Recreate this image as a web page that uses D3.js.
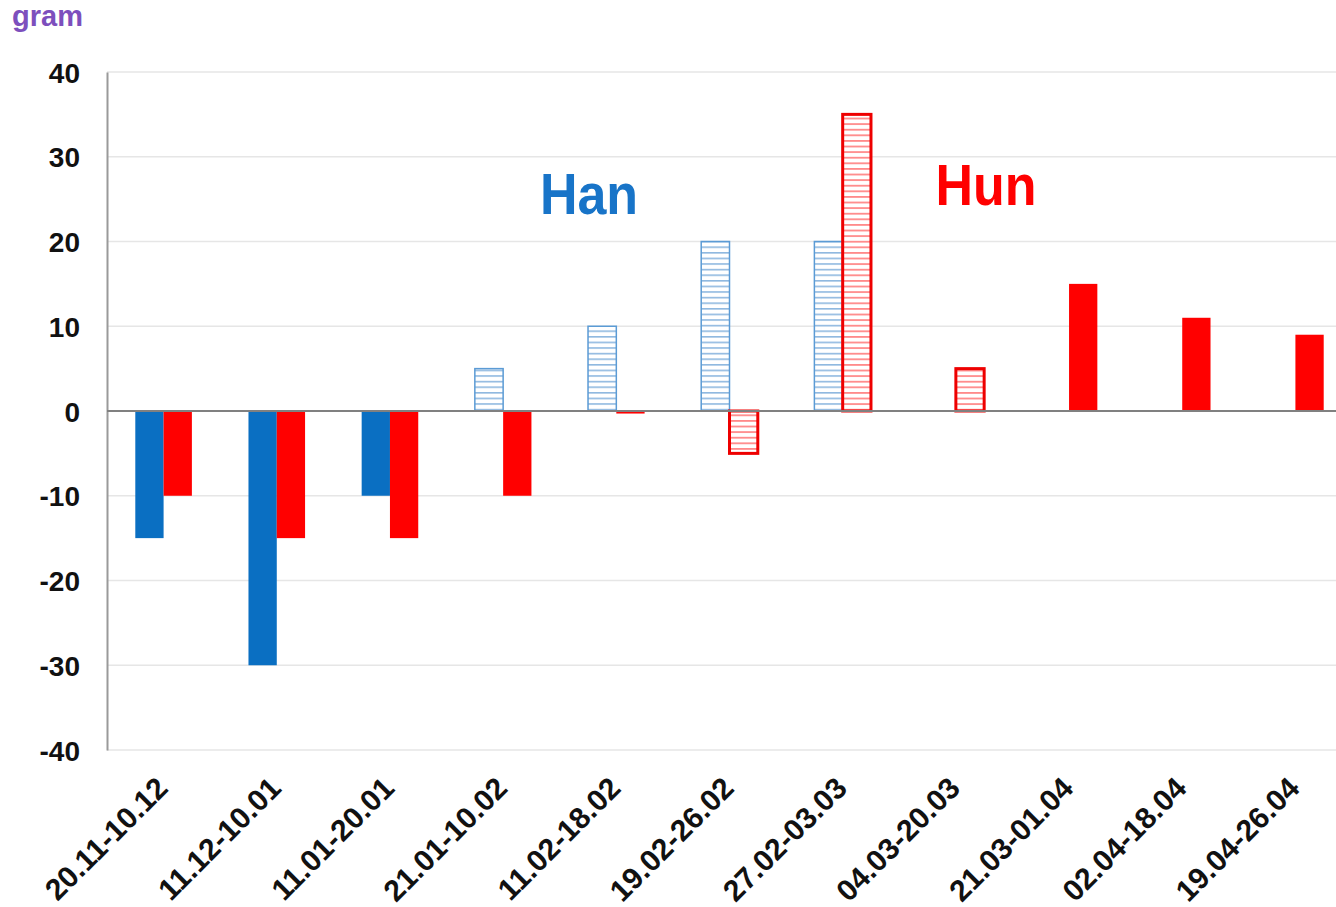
<!DOCTYPE html>
<html><head><meta charset="utf-8">
<script src="https://cdn.jsdelivr.net/npm/d3@7"></script>
<style>body{margin:0;background:#fff}svg{display:block}text{font-family:"Liberation Sans",Arial,sans-serif;font-weight:bold}</style>
</head><body>
<svg id="c" width="1336" height="907"></svg>
<script>
const categories = ["20.11-10.12","11.12-10.01","11.01-20.01","21.01-10.02","11.02-18.02","19.02-26.02","27.02-03.03","04.03-20.03","21.03-01.04","02.04-18.04","19.04-26.04"];
const hanValues = [-15, -30, -10, 5, 10, 20, 20, null, null, null, null];
const hanHatched = [false, false, false, true, true, true, true, false, false, false, false];
const hunValues = [-10, -15, -15, -10, -0.3, -5, 35, 5, 15, 11, 9];
const hunHatched = [false, false, false, false, false, true, true, true, false, false, false];
const yTicks = [-40, -30, -20, -10, 0, 10, 20, 30, 40];
const seriesNames = ["Han", "Hun"];

const svg = d3.select("#c");
const defs = svg.append("defs");
const hb = defs.append("pattern").attr("id","hatchBlue").attr("patternUnits","userSpaceOnUse").attr("width",8).attr("height",5.6);
hb.append("rect").attr("width",8).attr("height",5.6).attr("fill","#fff");
hb.append("rect").attr("y",0).attr("width",8).attr("height",1.6).attr("fill","#8fb8e0");
const hr = defs.append("pattern").attr("id","hatchRed").attr("patternUnits","userSpaceOnUse").attr("width",8).attr("height",5.6);
hr.append("rect").attr("width",8).attr("height",5.6).attr("fill","#fff");
hr.append("rect").attr("y",0).attr("width",8).attr("height",1.8).attr("fill","#ff8a8a");

const y = d3.scaleLinear().domain([-40, 40]).range([750, 72]);
const x = d3.scaleBand().domain(categories).range([107, 1352]).paddingInner(0.5).paddingOuter(0.25);
const sub = d3.scaleBand().domain(seriesNames).range([0, x.bandwidth()]);

// gridlines
svg.append("g").selectAll("line").data(yTicks.filter(t => t !== 0)).join("line")
  .attr("x1", 107).attr("x2", 1336).attr("y1", d => y(d)).attr("y2", d => y(d))
  .attr("stroke", "#e6e6e6").attr("stroke-width", 1.5);

// y axis
const yAxis = svg.append("g").attr("transform","translate(107,0)")
  .call(d3.axisLeft(y).tickValues(yTicks).tickSize(0).tickPadding(27).tickFormat(d => String(d)));
yAxis.select(".domain").attr("stroke","#9a9a9a").attr("stroke-width",2);
yAxis.selectAll("text").attr("font-size",28).attr("fill","#111").attr("dy","0.36em");

function drawSeries(values, hatched, name, solid, pat, stroke, sw) {
  const g = svg.append("g");
  values.forEach((v, i) => {
    if (v === null) return;
    const x0 = x(categories[i]) + sub(name);
    const top = y(Math.max(0, v)), bot = y(Math.min(0, v));
    const r = g.append("rect").attr("x", x0).attr("y", top).attr("width", sub.bandwidth()).attr("height", Math.max(bot - top, 2));
    if (hatched[i]) {
      r.attr("fill", `url(#${pat})`).attr("stroke", stroke).attr("stroke-width", sw);
    } else {
      r.attr("fill", solid);
    }
  });
}
drawSeries(hanValues, hanHatched, "Han", "#0a6fc2", "hatchBlue", "#5b9bd5", 1.5);
drawSeries(hunValues, hunHatched, "Hun", "#ff0000", "hatchRed", "#ee0000", 3);

// zero line
svg.append("line").attr("x1",107).attr("x2",1336).attr("y1",y(0)).attr("y2",y(0)).attr("stroke","#808080").attr("stroke-width",2);

// x labels
svg.append("g").selectAll("text").data(categories).join("text")
  .attr("transform", d => `translate(${x(d) + x.bandwidth()/2 + 6},${790}) rotate(-45)`)
  .attr("text-anchor","end").attr("font-size",30).attr("fill","#111")
  .text(d => d);

// series labels
svg.append("text").attr("transform","translate(589,214) scale(1,1.12)").attr("text-anchor","middle").attr("font-size",52).attr("fill","#1874c8").text(seriesNames[0]);
svg.append("text").attr("transform","translate(986,205) scale(1,1.12)").attr("text-anchor","middle").attr("font-size",52).attr("fill","#ff0000").text(seriesNames[1]);

// unit
svg.append("text").attr("x",12).attr("y",26).attr("font-size",29).attr("fill","#7d4fbd").text("gram");
</script>
</body></html>
